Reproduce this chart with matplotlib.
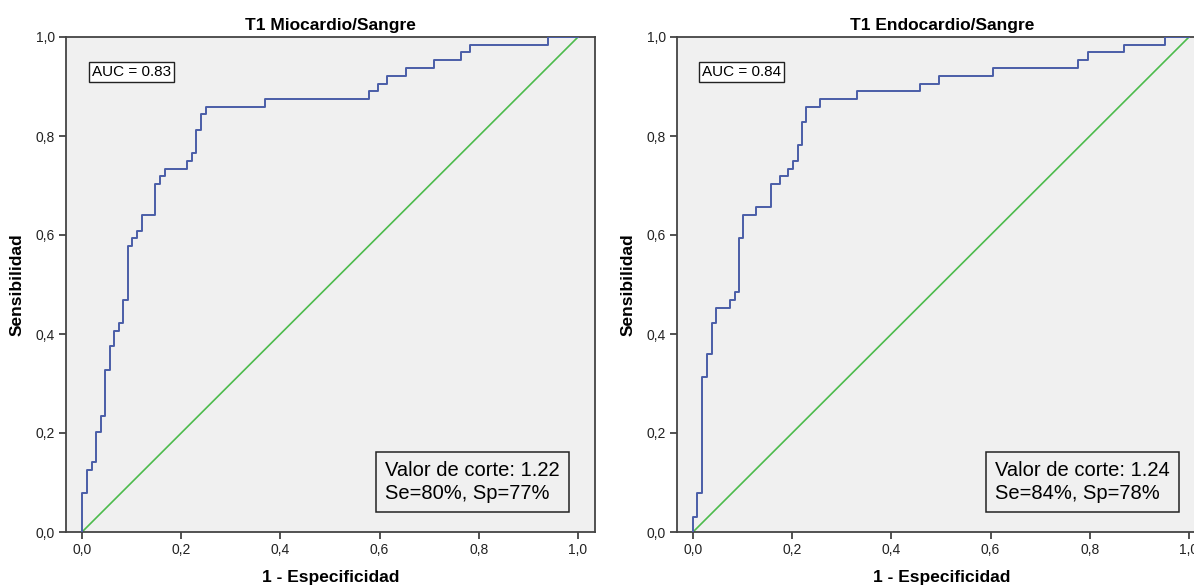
import matplotlib.pyplot as plt

plt.rcParams['font.family'] = ['Liberation Sans', 'DejaVu Sans']

# ROC curve corner points (1 - specificity, sensitivity)
fpr_mio = [0, 0, 0.010, 0.020, 0.028, 0.038, 0.046, 0.056, 0.065, 0.074, 0.083, 0.093,
           0.101, 0.111, 0.120, 0.148, 0.157, 0.167, 0.212, 0.221, 0.230, 0.239, 0.249,
           0.368, 0.578, 0.596, 0.615, 0.653, 0.709, 0.765, 0.783, 0.940, 1.0]
tpr_mio = [0, 0.078, 0.125, 0.141, 0.203, 0.234, 0.328, 0.375, 0.406, 0.422, 0.469, 0.578,
           0.594, 0.609, 0.641, 0.703, 0.719, 0.734, 0.750, 0.766, 0.813, 0.844, 0.859,
           0.875, 0.891, 0.906, 0.922, 0.938, 0.953, 0.969, 0.984, 1.0, 1.0]

fpr_endo = [0, 0, 0.009, 0.019, 0.029, 0.038, 0.047, 0.075, 0.084, 0.093,
            0.101, 0.128, 0.157, 0.175, 0.192, 0.202, 0.211, 0.220, 0.228, 0.257,
            0.330, 0.458, 0.495, 0.604, 0.777, 0.796, 0.869, 0.952, 1.0]
tpr_endo = [0, 0.031, 0.078, 0.313, 0.359, 0.422, 0.453, 0.469, 0.484, 0.594,
            0.641, 0.656, 0.703, 0.719, 0.734, 0.750, 0.781, 0.828, 0.859, 0.875,
            0.891, 0.906, 0.922, 0.938, 0.953, 0.969, 0.984, 1.0, 1.0]

titles = ["T1 Miocardio/Sangre", "T1 Endocardio/Sangre"]
auc_labels = ["AUC = 0.83", "AUC = 0.84"]
cut_labels = ["Valor de corte: 1.22\nSe=80%, Sp=77%", "Valor de corte: 1.24\nSe=84%, Sp=78%"]
ticks = [0, 0.2, 0.4, 0.6, 0.8, 1.0]
tick_labels = ["0,0", "0,2", "0,4", "0,6", "0,8", "1,0"]

W, H = 1194, 586
fig = plt.figure(figsize=(W / 100, H / 100), dpi=100)

# axes rectangles in pixels: left, right, y of 0, y of 1
rects = [(66, 595, 532, 37), (677, 1207, 532, 37)]
curves = [(fpr_mio, tpr_mio), (fpr_endo, tpr_endo)]
cut_x = [385, 995]
auc_x = [92, 702]

for i in range(2):
    l, r, b, t = rects[i]
    ax = fig.add_axes([l / W, (H - b) / H, (r - l) / W, (b - t) / H])
    ax.set_facecolor('#f0f0f0')
    fpr, tpr = curves[i]
    ax.plot([0, 1], [0, 1], color='#4cbb4c', lw=1.2, zorder=2)
    ax.plot(fpr, tpr, drawstyle='steps-post', color='#4a5ea8', lw=1.4, zorder=3)
    ax.set_xlim(-16 / 496, (r - l - 16) / 496)
    ax.set_ylim(0, 1)
    ax.set_xticks(ticks)
    ax.set_xticklabels(tick_labels)
    ax.set_yticks(ticks)
    ax.set_yticklabels(tick_labels)
    ax.tick_params(direction='out', length=5, width=1.2, color='#333333',
                   labelsize=10, labelcolor='#222222', pad=3)
    for s in ax.spines.values():
        s.set_color('#444444')
        s.set_linewidth(1.3)
    ax.set_title(titles[i], fontsize=12.5, fontweight='bold', pad=5)
    ax.set_xlabel("1 - Especificidad", fontsize=12.5, fontweight='bold', labelpad=9)
    ax.set_ylabel("Sensibilidad", fontsize=12.5, fontweight='bold', labelpad=8)

    ax.text((auc_x[i] - l) / (r - l), (b - 72) / (b - t), auc_labels[i],
            transform=ax.transAxes, fontsize=11, va='center', ha='left',
            bbox=dict(boxstyle='square,pad=0.22', fc='white', ec='#222222', lw=1))
    ax.text((cut_x[i] - l) / (r - l), (b - 482) / (b - t), cut_labels[i],
            transform=ax.transAxes, fontsize=14.5, va='center', ha='left', linespacing=1.22,
            bbox=dict(boxstyle='square,pad=0.45', fc='#f0f0f0', ec='#222222', lw=1.1))

fig.savefig("out.png", dpi=100)
plt.close()
